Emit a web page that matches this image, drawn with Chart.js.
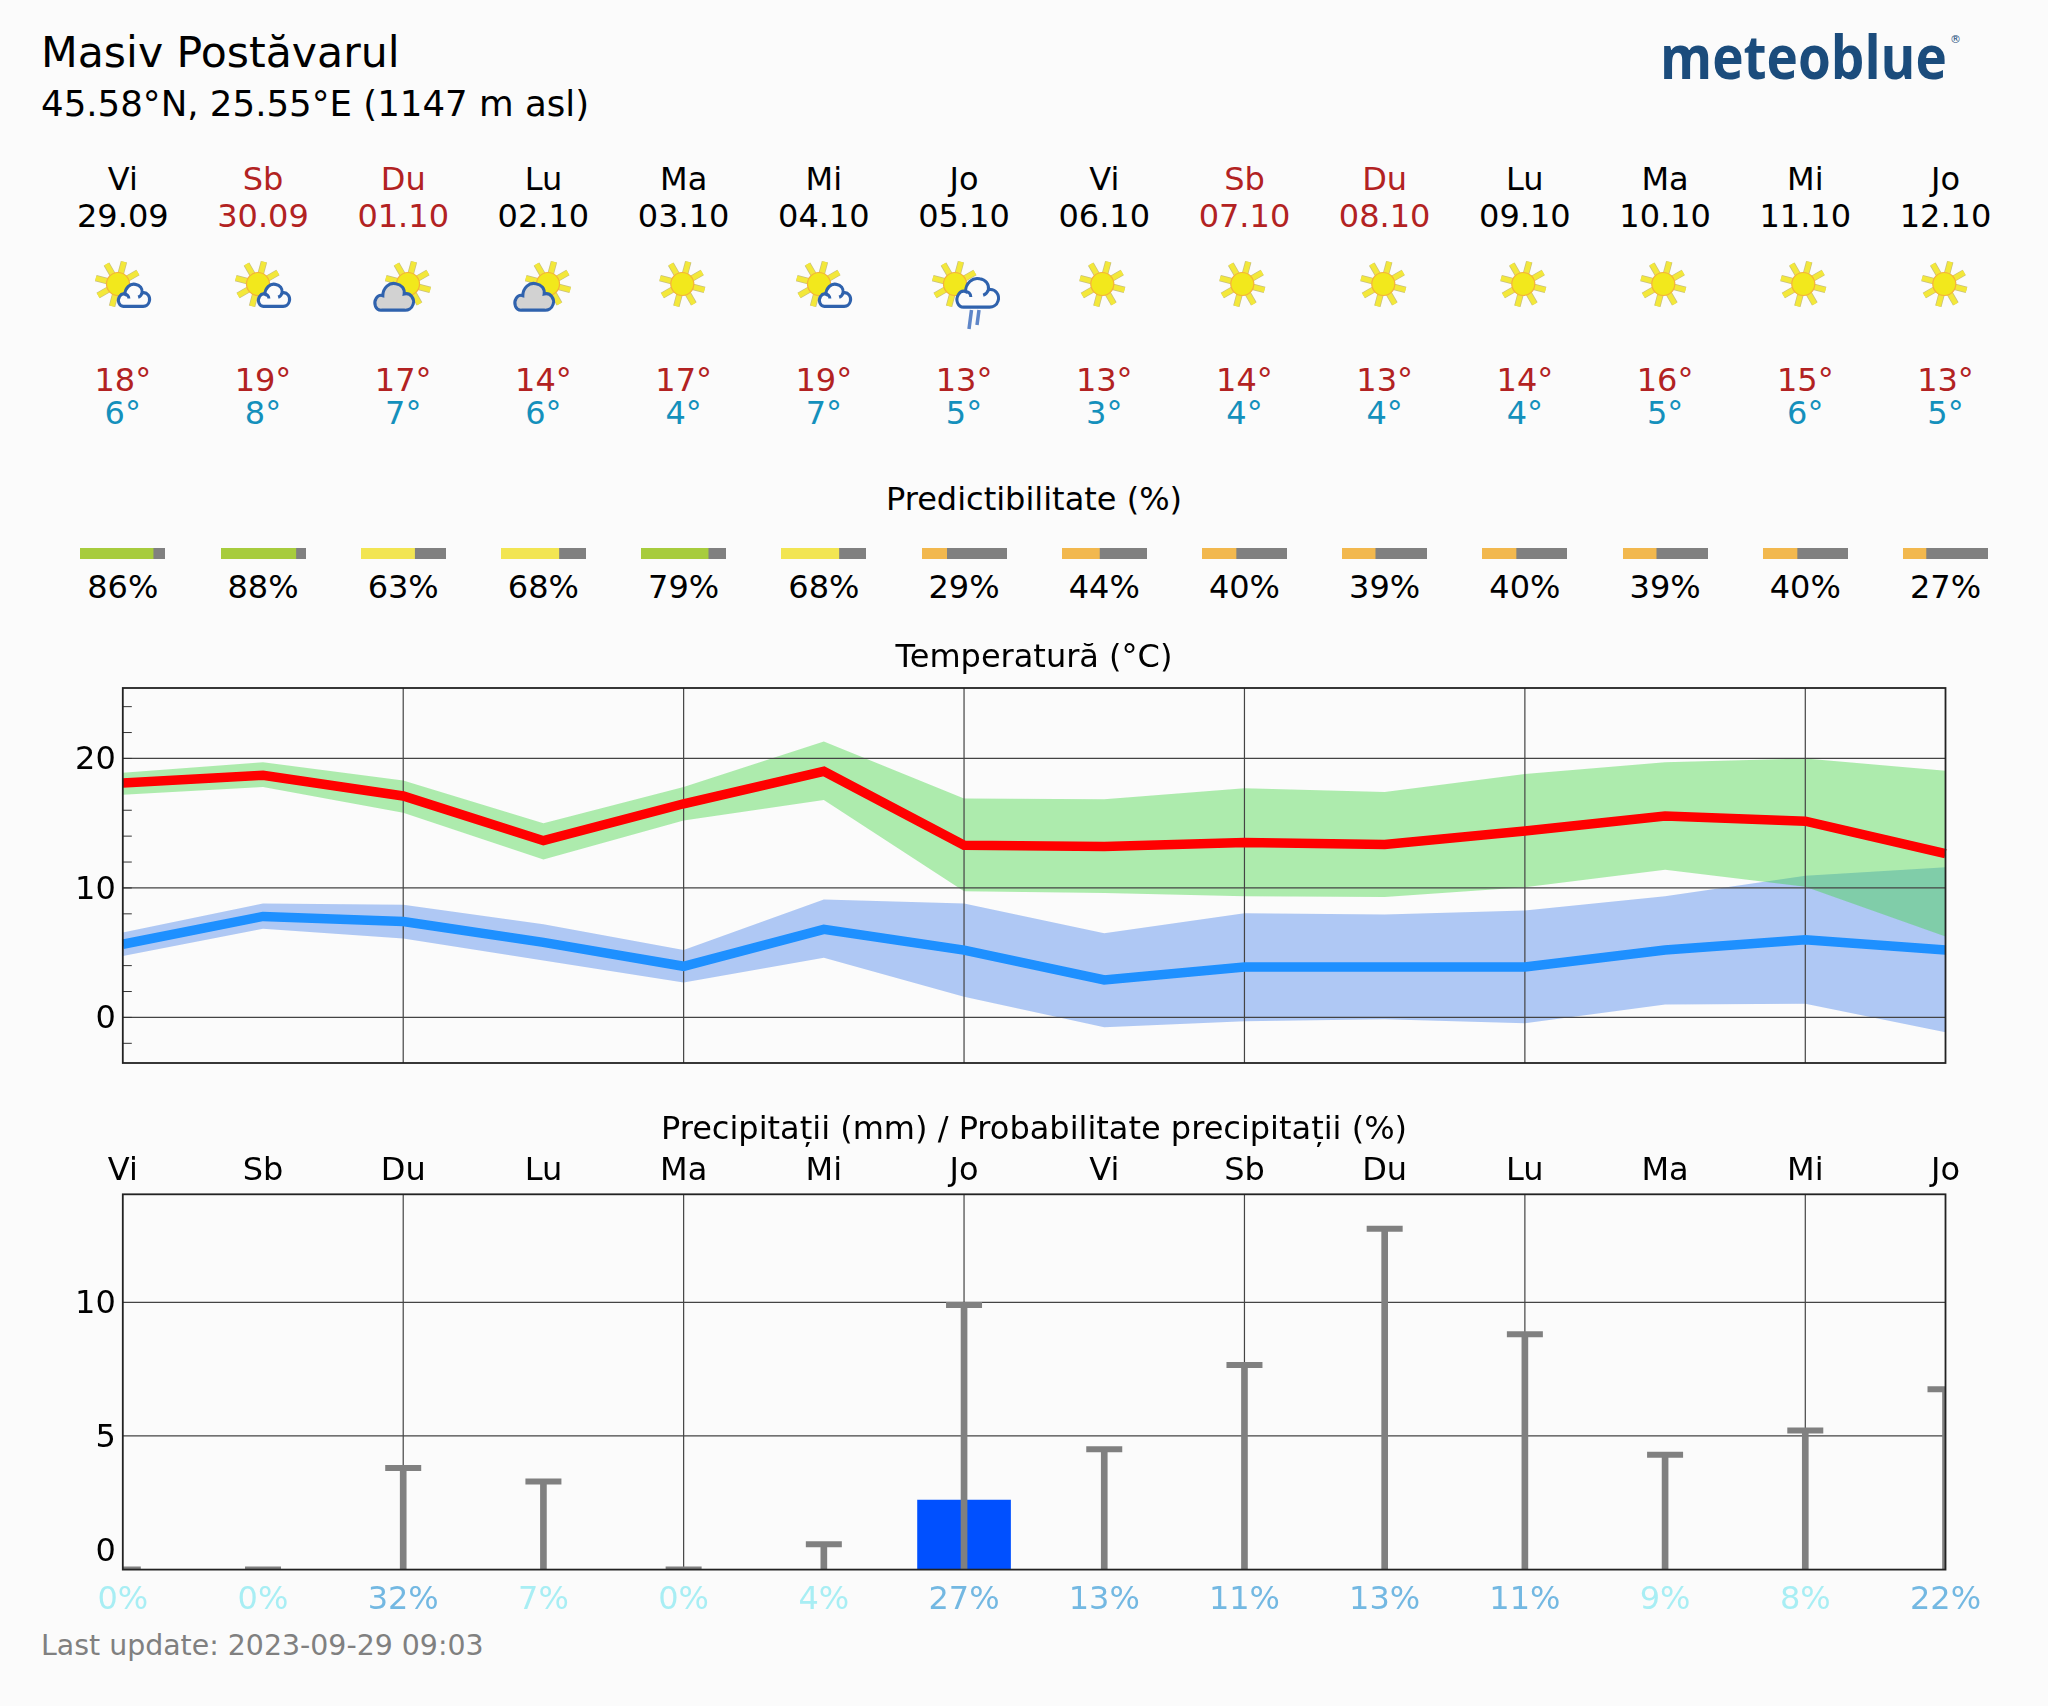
<!DOCTYPE html>
<html>
<head>
<meta charset="utf-8">
<title>Masiv Postăvarul</title>
<script src="https://cdn.jsdelivr.net/npm/chart.js@4"></script>
<style>
    html, body { margin: 0; background: #fbfbfb; }
    #page { position: relative; width: 2048px; height: 1706px; overflow: hidden; font-family: "DejaVu Sans", sans-serif; color: #000; }
    #page canvas { position: absolute; }
    .txt { position: absolute; white-space: nowrap; line-height: 1; }
    .mid { transform: translate(-50%, -50%); }
    svg { position: absolute; overflow: visible; }
</style>
</head>
<body>
<div id="page">
    <canvas id="tempChart" width="2048" height="410" style="left:0;top:670px"></canvas>
    <canvas id="rainChart" width="2048" height="480" style="left:0;top:1145px"></canvas>
</div>
<script>
const dayNames = ['Vi', 'Sb', 'Du', 'Lu', 'Ma', 'Mi', 'Jo', 'Vi', 'Sb', 'Du', 'Lu', 'Ma', 'Mi', 'Jo'];
const dates = ['29.09', '30.09', '01.10', '02.10', '03.10', '04.10', '05.10', '06.10', '07.10', '08.10', '09.10', '10.10', '11.10', '12.10'];
const icons = ['sunCloud', 'sunCloud', 'sunGrey', 'sunGrey', 'sun', 'sunCloud', 'sunRain', 'sun', 'sun', 'sun', 'sun', 'sun', 'sun', 'sun'];
const highLabels = [18, 19, 17, 14, 17, 19, 13, 13, 14, 13, 14, 16, 15, 13];
const lowLabels = [6, 8, 7, 6, 4, 7, 5, 3, 4, 4, 4, 5, 6, 5];
const predictability = [86, 88, 63, 68, 79, 68, 29, 44, 40, 39, 40, 39, 40, 27];

const tempMean = [18.1, 18.7, 17.1, 13.65, 16.5, 19.0, 13.3, 13.2, 13.5, 13.35, 14.4, 15.55, 15.15, 12.65];
const tempUpper = [18.9, 19.7, 18.3, 15.0, 17.8, 21.3, 16.9, 16.85, 17.7, 17.4, 18.8, 19.7, 20.0, 19.05];
const tempLower = [17.2, 17.8, 15.8, 12.2, 15.2, 16.8, 9.75, 9.6, 9.35, 9.3, 10.05, 11.4, 10.1, 6.25];
const coldMean = [5.65, 7.8, 7.4, 5.8, 3.95, 6.8, 5.2, 2.9, 3.9, 3.9, 3.9, 5.2, 6.0, 5.2];
const coldUpper = [6.55, 8.8, 8.7, 7.2, 5.2, 9.1, 8.8, 6.5, 8.05, 7.95, 8.25, 9.35, 10.95, 11.6];
const coldLower = [4.75, 6.85, 6.1, 4.4, 2.7, 4.6, 1.6, -0.75, -0.3, -0.15, -0.45, 1.0, 1.05, -1.15];

const rainAmount = [0, 0, 0, 0, 0, 0, 2.6, 0, 0, 0, 0, 0, 0, 0];
const rainMax = [0, 0, 3.8, 3.3, 0, 0.95, 9.9, 4.5, 7.65, 12.75, 8.8, 4.3, 5.2, 6.75];
const rainProb = [0, 0, 32, 7, 0, 4, 27, 13, 11, 13, 11, 9, 8, 22];

const gridDays = [2, 4, 6, 8, 10, 12];
const tempTicks = [-2, 0, 2, 4, 6, 8, 10, 12, 14, 16, 18, 20, 22, 24];
const tempGrid = [0, 10, 20];
const rainTicks = [0, 5, 10];
const rainGrid = [5, 10];

const plotLeft = 122.8;
const plotRight = 1945.5;
const dayStep = (plotRight - plotLeft) / 13;
const page = document.getElementById('page');

function addText(text, x, y, size, color, centered) {
    const el = document.createElement('div');
    el.className = centered ? 'txt mid' : 'txt';
    el.textContent = text;
    el.style.left = x + 'px';
    el.style.top = y + 'px';
    el.style.fontSize = size + 'px';
    el.style.color = color || '#000';
    page.appendChild(el);
    return el;
}

const cloudPath = 'M22 66C6 68 0 50 8 38C12 32 18 30 24 32C24 14 40 0 56 4C70 6 78 16 76 28C92 24 102 40 98 52C95 62 86 67 76 66Z';
const curlPath = 'M24 32C30 32 36 36 36 44M76 28C74 34 70 38 64 40';

function sunSvg(cx, cy) {
    let rays = '';
    for (let a = 15; a < 360; a += 45) {
        const c = Math.sin(a * Math.PI / 180), s = -Math.cos(a * Math.PI / 180);
        const line = `x1="${cx + c * 10}" y1="${cy + s * 10}" x2="${cx + c * 23}" y2="${cy + s * 23}"`;
        rays += `<line ${line} stroke="#c8c07c" stroke-width="6.5"/><line ${line} stroke="#f3e83a" stroke-width="5"/>`;
    }
    return rays + `<circle cx="${cx}" cy="${cy}" r="11.5" fill="#f2e81c" stroke="#f5b13a" stroke-width="1.2"/>`;
}

function cloudSvg(x, y, w, h, fill, curls) {
    const body = `<path d="${cloudPath}" fill="${fill}" stroke="#2f62ad" stroke-width="${300 / w}"/>`;
    const inner = curls ? `<path d="${curlPath}" fill="none" stroke="#2f62ad" stroke-width="${300 / w}"/>` : '';
    return `<g transform="translate(${x} ${y}) scale(${w / 100} ${h / 68})">${body}${inner}</g>`;
}

function iconSvg(kind) {
    if (kind === 'sun') return sunSvg(-1.7, 0);
    if (kind === 'sunCloud') return sunSvg(-5, 0) + cloudSvg(-6, -1, 33, 24, '#fbfbfb', true);
    if (kind === 'sunGrey') return sunSvg(5, 0) + cloudSvg(-30, -2, 41, 29, '#d2d2d2', false);
    const rain = '<path d="M7.5 26L5 45M15 26L13 41" stroke="#5f86c8" stroke-width="3.5" fill="none"/>';
    return sunSvg(-9, 0) + cloudSvg(-9, -7, 44, 31, '#fbfbfb', true) + rain;
}

function predictColor(p) {
    if (p >= 70) return '#a7cc3d';
    if (p >= 50) return '#f2e552';
    return '#f2b84e';
}

addText('Masiv Postăvarul', 41, 31, 42.6);
addText('45.58°N, 25.55°E (1147 m asl)', 41, 86, 35.6);
const logo = addText('meteoblue', 1660, 26, 60, '#1b4c7c');
logo.style.fontFamily = '"Open Sans"';
logo.style.fontWeight = '700';
logo.style.transformOrigin = 'left top';
logo.style.transform = 'scaleX(0.885)';
addText('®', 1950, 34, 11, '#1b4c7c');
addText('Predictibilitate (%)', 1034, 499, 32, '#000', true);
addText('Temperatură (°C)', 1034, 656, 32, '#000', true);
addText('Precipitații (mm) / Probabilitate precipitații (%)', 1034, 1128, 32, '#000', true);
addText('Last update: 2023-09-29 09:03', 41, 1632, 28.4, '#808080');

dayNames.forEach((name, i) => {
    const x = plotLeft + i * dayStep;
    const weekend = name === 'Sb' || name === 'Du';
    addText(name, x, 179, 32, weekend ? '#b22222' : '#000', true);
    addText(dates[i], x, 216, 32, weekend ? '#b22222' : '#000', true);
    addText(highLabels[i] + '°', x, 380, 32, '#b22222', true);
    addText(lowLabels[i] + '°', x, 413, 32, '#1490bc', true);
    addText(predictability[i] + '%', x, 587, 32, '#000', true);

    const svg = document.createElementNS('http://www.w3.org/2000/svg', 'svg');
    svg.setAttribute('width', 90);
    svg.setAttribute('height', 90);
    svg.setAttribute('viewBox', '-45 -45 90 90');
    svg.style.left = (x - 45) + 'px';
    svg.style.top = (284 - 45) + 'px';
    svg.innerHTML = iconSvg(icons[i]);
    page.appendChild(svg);

    const barCanvas = document.createElement('canvas');
    barCanvas.width = 85;
    barCanvas.height = 11;
    barCanvas.style.left = (x - 42.5) + 'px';
    barCanvas.style.top = '548px';
    page.appendChild(barCanvas);
    new Chart(barCanvas, {
        type: 'bar',
        data: {
            labels: [dates[i]],
            datasets: [
                { data: [predictability[i]], backgroundColor: predictColor(predictability[i]) },
                { data: [100 - predictability[i]], backgroundColor: '#808080' }
            ]
        },
        options: {
            indexAxis: 'y',
            responsive: false,
            animation: false,
            barPercentage: 1,
            categoryPercentage: 1,
            layout: { padding: 0 },
            plugins: { legend: { display: false }, tooltip: { enabled: false } },
            scales: {
                x: { display: false, stacked: true, min: 0, max: 100 },
                y: { display: false, stacked: true }
            }
        }
    });
});

Chart.defaults.font.family = '"DejaVu Sans"';
Chart.defaults.font.size = 32;
Chart.defaults.color = '#000';

function drawGrid(chart, values) {
    const { ctx, chartArea, scales } = chart;
    ctx.save();
    ctx.strokeStyle = '#444';
    ctx.lineWidth = 1.2;
    ctx.beginPath();
    gridDays.forEach(d => {
        const x = scales.x.getPixelForValue(d);
        ctx.moveTo(x, chartArea.top);
        ctx.lineTo(x, chartArea.bottom);
    });
    values.forEach(v => {
        const y = scales.y.getPixelForValue(v);
        ctx.moveTo(chartArea.left, y);
        ctx.lineTo(chartArea.right, y);
    });
    ctx.stroke();
    ctx.restore();
}

const framePlugin = {
    id: 'framePlugin',
    afterDatasetsDraw(chart) {
        const { ctx, chartArea } = chart;
        ctx.save();
        ctx.strokeStyle = '#222';
        ctx.lineWidth = 1.8;
        ctx.strokeRect(chartArea.left, chartArea.top, chartArea.right - chartArea.left, chartArea.bottom - chartArea.top);
        ctx.restore();
    }
};

// the grid and the small ticks sit over the coloured bands but under the two thick lines
const tempGridPlugin = {
    id: 'tempGridPlugin',
    beforeDatasetDraw(chart, args) {
        if (args.index !== 1) return;
        drawGrid(chart, tempGrid);
        const { ctx, chartArea, scales } = chart;
        ctx.save();
        ctx.strokeStyle = '#333';
        ctx.lineWidth = 1;
        ctx.beginPath();
        tempTicks.forEach(v => {
            const y = scales.y.getPixelForValue(v);
            ctx.moveTo(chartArea.left, y);
            ctx.lineTo(chartArea.left + 9, y);
        });
        ctx.stroke();
        ctx.restore();
    }
};

const rainGridPlugin = {
    id: 'rainGridPlugin',
    beforeDatasetsDraw(chart) {
        drawGrid(chart, rainGrid);
    }
};

new Chart(document.getElementById('tempChart'), {
    type: 'line',
    data: {
        labels: dayNames,
        datasets: [
            { data: tempMean, borderColor: '#ff0000', borderWidth: 9.5, fill: false },
            { data: coldMean, borderColor: '#1e90ff', borderWidth: 9.5, fill: false },
            { data: tempUpper, borderWidth: 0, fill: '+1', backgroundColor: 'rgba(58,212,58,0.4)' },
            { data: tempLower, borderWidth: 0, fill: false },
            { data: coldUpper, borderWidth: 0, fill: '+1', backgroundColor: 'rgba(100,149,237,0.5)' },
            { data: coldLower, borderWidth: 0, fill: false }
        ]
    },
    options: {
        responsive: false,
        animation: false,
        elements: {
            line: { tension: 0, borderJoinStyle: 'miter', borderCapStyle: 'butt' },
            point: { radius: 0 }
        },
        layout: { autoPadding: false, padding: { top: 18, bottom: 17, left: 0, right: 102.5 } },
        plugins: { legend: { display: false }, tooltip: { enabled: false } },
        scales: {
            x: { display: false, offset: false },
            y: {
                min: -3.52,
                max: 25.44,
                afterFit(scale) {
                    scale.width = plotLeft;
                    scale.paddingTop = 0;
                    scale.paddingBottom = 0;
                },
                afterBuildTicks(scale) { scale.ticks = tempTicks.map(v => ({ value: v })); },
                grid: { display: false },
                border: { display: false },
                ticks: {
                    padding: -1,
                    autoSkip: false,
                    // blank first line with a small line height nudges the label down a little
                    font: { size: 32, lineHeight: 5 / 32 },
                    callback: v => (v % 10 === 0 ? ['', String(v)] : '')
                }
            }
        }
    },
    plugins: [tempGridPlugin, framePlugin]
});

new Chart(document.getElementById('rainChart'), {
    type: 'bar',
    data: {
        labels: dayNames,
        datasets: [
            {
                type: 'line',
                data: rainMax,
                showLine: false,
                clip: 0,
                pointStyle: 'line',
                pointRadius: 18,
                pointBorderWidth: 6,
                pointBorderColor: '#808080'
            },
            { data: rainMax, backgroundColor: '#808080', barThickness: 6, grouped: false },
            { data: rainAmount, backgroundColor: '#0050ff', barThickness: 93, grouped: false }
        ]
    },
    options: {
        responsive: false,
        animation: false,
        layout: { autoPadding: false, padding: { top: 0, bottom: 0, left: 0, right: 102.5 } },
        plugins: { legend: { display: false }, tooltip: { enabled: false } },
        scales: {
            x: {
                position: 'top',
                offset: false,
                afterFit(scale) { scale.height = 49.3; },
                grid: { display: false, offset: false },
                border: { display: false },
                ticks: { padding: -5, autoSkip: false, maxRotation: 0 }
            },
            x2: {
                type: 'category',
                position: 'bottom',
                labels: rainProb.map(p => p + '%'),
                offset: false,
                afterFit(scale) { scale.height = 55.4; },
                grid: { display: false, offset: false },
                border: { display: false },
                ticks: {
                    padding: 4,
                    autoSkip: false,
                    maxRotation: 0,
                    color: ctx => (rainProb[ctx.index] >= 10 ? '#73b8e2' : '#a8eef4')
                }
            },
            y: {
                min: 0,
                max: 14.04,
                afterFit(scale) { scale.width = plotLeft; },
                afterBuildTicks(scale) { scale.ticks = rainTicks.map(v => ({ value: v })); },
                grid: { display: false },
                border: { display: false },
                ticks: {
                    padding: -1,
                    // the zero label stands above the axis line, the others sit a little low
                    font: ctx => ({ size: 32, lineHeight: ctx.tick && ctx.tick.value === 0 ? 33.4 / 32 : 5 / 32 }),
                    callback: v => (v === 0 ? ['0', ''] : ['', String(v)])
                }
            }
        }
    },
    plugins: [rainGridPlugin, framePlugin]
});
</script>
</body>
</html>
